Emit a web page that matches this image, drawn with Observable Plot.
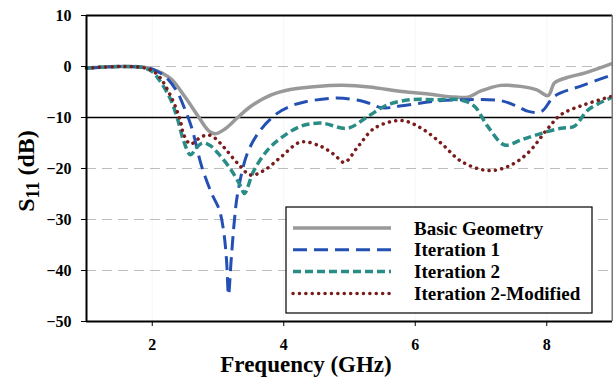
<!DOCTYPE html>
<html>
<head>
<meta charset="utf-8">
<script src="https://cdn.jsdelivr.net/npm/d3@7"></script>
<script src="https://cdn.jsdelivr.net/npm/@observablehq/plot@0.6"></script>
<style>
  html, body { margin: 0; padding: 0; background: #fff; }
  #chart { position: relative; width: 613px; height: 377px; }
  #chart svg text { font-family: "Liberation Serif", "Times New Roman", serif !important; font-weight: bold; }
</style>
</head>
<body>
<div id="chart"></div>
<script>
// ---- data ----
const seriesNames = ["Basic Geometry", "Iteration 1", "Iteration 2", "Iteration 2-Modified"];
const seriesColors = ["#999999", "#2450b4", "#2a8c86", "#7a1c1c"];

const xTicks = [2, 4, 6, 8];
const yTicks = [-50, -40, -30, -20, -10, 0, 10];
const yGrid = [0, -20, -30, -40];
const yThreshold = [-10];

const basicF = [1.0, 1.5, 1.9, 2.0, 2.15, 2.3, 2.5, 2.7, 2.85, 2.95, 3.1, 3.3, 3.5, 3.8, 4.1, 4.5, 4.9, 5.3, 5.8, 6.2, 6.6, 6.8, 7.0, 7.3, 7.6, 7.85, 8.02, 8.12, 8.3, 8.6, 9.0];
const basicS = [-0.3, 0, -0.2, -0.5, -1.3, -2.6, -6, -9.8, -12.5, -13.2, -12.3, -10, -7.8, -5.6, -4.5, -3.9, -3.7, -4.0, -4.9, -5.4, -6.0, -6.0, -4.8, -3.7, -3.9, -4.6, -5.7, -3.2, -2.2, -1.2, 0.6];

const iter1F = [1.0, 1.5, 1.9, 2.0, 2.2, 2.38, 2.5, 2.6, 2.75, 2.9, 3.02, 3.09, 3.13, 3.16, 3.2, 3.25, 3.3, 3.45, 3.65, 3.9, 4.1, 4.3, 4.8, 5.2, 5.5, 5.8, 6.3, 6.8, 7.3, 7.55, 7.72, 7.92, 8.12, 8.55, 9.0];
const iter1S = [-0.3, 0, -0.2, -0.5, -2.0, -5.0, -8.5, -12, -19.5, -24.8, -28.1, -32.7, -38, -44.8, -38, -30.1, -24.8, -16.9, -12.4, -9.2, -7.8, -7.0, -6.2, -6.8, -8.1, -7.7, -6.8, -6.5, -6.7, -7.8, -8.8, -8.8, -5.8, -3.7, -1.6];

const iter2F = [1.0, 1.5, 1.85, 2.0, 2.12, 2.27, 2.38, 2.48, 2.58, 2.68, 2.77, 2.88, 3.0, 3.2, 3.35, 3.4, 3.55, 3.76, 3.96, 4.26, 4.57, 4.97, 5.28, 5.58, 5.94, 6.3, 6.7, 6.9, 7.1, 7.36, 7.61, 7.92, 8.22, 8.42, 8.63, 9.0];
const iter2S = [-0.3, 0, -0.2, -1.0, -2.9, -6.2, -10.1, -14.7, -17.3, -15.8, -15.0, -15.5, -17, -20.3, -23.6, -24.9, -20.3, -16.3, -14.0, -11.7, -11.1, -12.1, -9.8, -7.5, -6.5, -6.5, -6.6, -7.8, -11.7, -15.4, -14.4, -13.1, -12.1, -11.7, -8.5, -6.0];

const modF = [1.0, 1.5, 1.85, 2.0, 2.12, 2.27, 2.38, 2.43, 2.48, 2.58, 2.7, 2.84, 2.95, 3.1, 3.3, 3.5, 3.71, 3.96, 4.26, 4.57, 4.77, 4.92, 5.13, 5.38, 5.79, 6.09, 6.39, 6.7, 7.1, 7.41, 7.71, 8.02, 8.22, 8.57, 9.0];
const modS = [-0.3, 0, -0.2, -0.8, -2.2, -5.5, -8.8, -10.8, -13.4, -15.2, -14.2, -13.4, -14.0, -16.0, -19.0, -21.3, -20.3, -17.7, -14.8, -15.7, -17.3, -18.8, -15.7, -12.1, -10.6, -12.1, -15.0, -18.6, -20.4, -19.6, -17.0, -12.1, -9.4, -7.5, -5.8];

// ---- build table ----
const toRows = (fs, ss, name) => fs.map((f, i) => ({f, s: ss[i], name}));
const rows = [
  ...toRows(basicF, basicS, seriesNames[0]),
  ...toRows(iter1F, iter1S, seriesNames[1]),
  ...toRows(iter2F, iter2S, seriesNames[2]),
  ...toRows(modF, modS, seriesNames[3])
];
const styles = [
  {strokeWidth: 3.5, strokeDasharray: null, strokeLinecap: "butt"},
  {strokeWidth: 3, strokeDasharray: "14,7", strokeLinecap: "butt"},
  {strokeWidth: 3.5, strokeDasharray: "8,4", strokeLinecap: "butt"},
  {strokeWidth: 3.5, strokeDasharray: "0.1,6.3", strokeLinecap: "round"}
];

const font = "'Liberation Serif', 'Times New Roman', serif";

const lineMarks = seriesNames.map((n, i) =>
  Plot.line(rows.filter(d => d.name === n), {
    x: "f", y: "s", stroke: seriesColors[i], curve: "catmull-rom",
    strokeWidth: styles[i].strokeWidth,
    strokeDasharray: styles[i].strokeDasharray,
    strokeLinecap: styles[i].strokeLinecap
  })
);

const svg = Plot.plot({
  width: 613, height: 377,
  marginLeft: 86, marginRight: 1, marginTop: 15, marginBottom: 56,
  x: {domain: [1, 9]},
  y: {domain: [-50, 10]},
  style: {fontFamily: font, fontWeight: "bold", fontSize: "16px", background: "#fff", color: "#000"},
  marks: [
    Plot.ruleX(xTicks, {stroke: "#000", strokeOpacity: 0.04}),
    Plot.ruleY(yGrid, {stroke: "#bdbdbd", strokeWidth: 1.2, strokeDasharray: "10,6"}),
    Plot.ruleY(yThreshold, {stroke: "#000", strokeWidth: 1.5}),
    ...lineMarks,
    Plot.ruleY([10], {stroke: "#000", strokeWidth: 2}),
    Plot.ruleY([-50], {stroke: "#000", strokeWidth: 2}),
    Plot.ruleX([1], {stroke: "#000", strokeWidth: 2}),
    Plot.ruleX([9], {stroke: "#777", strokeWidth: 2}),
    Plot.axisX({ticks: xTicks, tickSize: 5, tickPadding: 12, label: null, fontSize: 16, fontWeight: "bold", stroke: "#000"}),
    Plot.axisY({ticks: yTicks, tickSize: 5, tickPadding: 10, label: null, fontSize: 16, fontWeight: "bold", stroke: "#000"})
  ]
});

const s = d3.select(svg);
// x axis label
s.append("text")
  .attr("x", 306).attr("y", 372)
  .attr("text-anchor", "middle")
  .attr("font-size", 23)
  .text("Frequency (GHz)");
// y axis label with subscript
const yl = s.append("text")
  .attr("transform", "translate(34,171) rotate(-90)")
  .attr("text-anchor", "middle")
  .attr("font-size", 24);
yl.append("tspan").text("S");
yl.append("tspan").attr("font-size", 18).attr("dy", 5).text("11");
yl.append("tspan").attr("dy", -5).text(" (dB)");

// legend
const lg = s.append("g").attr("transform", "translate(286,207)");
lg.append("rect").attr("width", 306).attr("height", 106)
  .attr("fill", "#fff").attr("stroke", "#000").attr("stroke-width", 1.2);
seriesNames.forEach((n, i) => {
  const y = 21 + i * 21.8;
  lg.append("line").attr("x1", 7).attr("x2", 105).attr("y1", y).attr("y2", y)
    .attr("stroke", seriesColors[i]).attr("stroke-width", styles[i].strokeWidth)
    .attr("stroke-dasharray", styles[i].strokeDasharray)
    .attr("stroke-linecap", styles[i].strokeLinecap);
  lg.append("text").attr("x", 128).attr("y", y + 6.5)
    .attr("text-anchor", "start")
    .attr("font-size", 19)
    .text(n);
});

document.getElementById("chart").appendChild(svg);
</script>
</body>
</html>
